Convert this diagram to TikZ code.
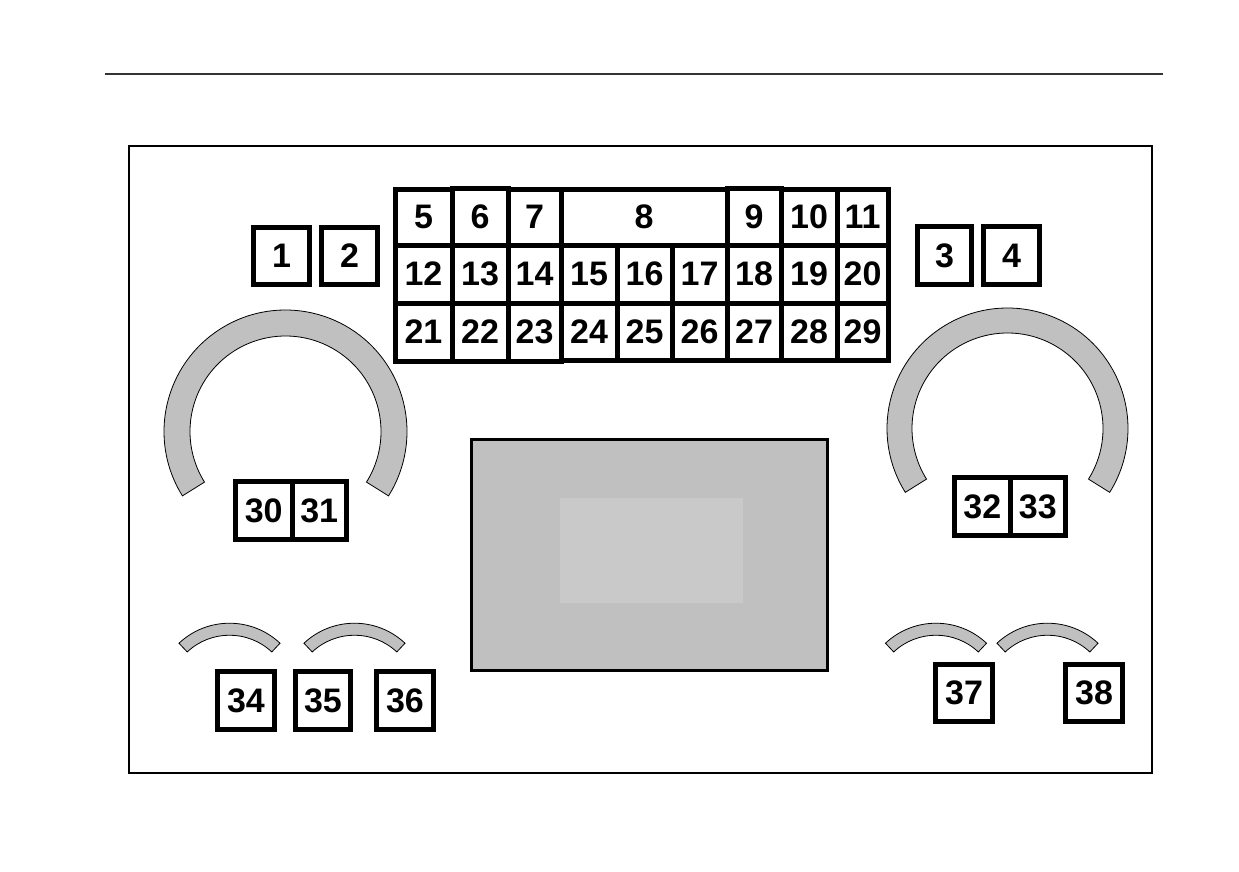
\documentclass[tikz,border=0pt]{standalone}
\usepackage{fontspec}
\setmainfont{Liberation Sans}
\definecolor{bandgray}{HTML}{C0C0C0}
\definecolor{scrgray}{HTML}{C0C0C0}
\definecolor{scrin}{HTML}{C9C9C9}
\definecolor{rulegray}{HTML}{333333}
\tikzset{
  box/.style={draw=black, line width=5pt, fill=white, inner sep=0pt, outer sep=0pt,
    font=\fontsize{34}{34}\selectfont\bfseries},
  band/.style={draw=black, line width=0.8pt, fill=bandgray},
  frameline/.style={draw=black, line width=2pt},
}
\newcommand\bx[6]{\node[box, minimum width={#4-#2}, minimum height={#5-#3}] (#1) at ({(#2+#4)/2},{(#3+#5)/2}) {#6};}
\begin{document}
\begin{tikzpicture}[x=1pt,y=-1pt]
\useasboundingbox (0,0) rectangle (1239,872);
% top rule and frame
\draw[draw=rulegray, line width=2pt] (105,74.5) -- (1163,74.5);
\draw[frameline] (128.7,146) rectangle (1152,773);
% screen
\draw[draw=black, line width=3pt, fill=scrgray] (471.5,439.5) rectangle (827.5,670.5);
\fill[scrin] (560,498) rectangle (743,603);
% big arcs
\coordinate (lc) at (285.5,431.5);
\coordinate (rc) at (1007.5,428.5);
\path[band] ([shift={(148:121.5)}]lc) arc[start angle=148, end angle=392, radius=121.5]
  -- ([shift={(392:95.5)}]lc) arc[start angle=392, end angle=148, radius=95.5] -- cycle;
\path[band] ([shift={(148:120.5)}]rc) arc[start angle=148, end angle=392, radius=120.5]
  -- ([shift={(392:95.5)}]rc) arc[start angle=392, end angle=148, radius=95.5] -- cycle;
% small arcs
\foreach \n/\cx in {a/229.5, b/354.5, c/936, d/1047.5}{
  \coordinate (s\n) at (\cx,697);
  \path[band] ([shift={(226.8:73.8)}]s\n) arc[start angle=226.8, end angle=313.2, radius=73.8]
    -- ([shift={(313.2:61.8)}]s\n) arc[start angle=313.2, end angle=226.8, radius=61.8] -- cycle;
}
% single boxes
\bx{b1}{253.5}{227.5}{309.5}{284.5}{1}
\bx{b2}{321.5}{227.5}{377.5}{284.5}{2}
\bx{b3}{917.5}{226.5}{971.5}{284.5}{3}
\bx{b4}{983.5}{226.5}{1039.5}{284.5}{4}
% grid row 1
\bx{b5}{395}{189}{452}{245}{5}
\bx{b7}{508}{189}{561}{245}{7}
\bx{b8}{561}{189}{727}{245}{8}
\bx{b10}{781}{189}{837}{245}{10}
\bx{b11}{837}{189}{888}{245}{11}
\bx{b6}{452}{188}{508}{245}{6}
\bx{b9}{727}{188}{781}{245}{9}
% grid row 2
\bx{b12}{395}{245}{452}{303}{12}
\bx{b13}{452}{245}{508}{303}{13}
\bx{b14}{508}{245}{561}{303}{14}
\bx{b15}{561}{245}{617}{303}{15}
\bx{b16}{617}{245}{672}{303}{16}
\bx{b17}{672}{245}{727}{303}{17}
\bx{b18}{727}{245}{781}{303}{18}
\bx{b19}{781}{245}{837}{303}{19}
\bx{b20}{837}{245}{888}{303}{20}
% grid row 3
\bx{b24}{561}{303}{617}{360}{24}
\bx{b25}{617}{303}{672}{360}{25}
\bx{b26}{672}{303}{727}{360}{26}
\bx{b27}{727}{303}{781}{360}{27}
\bx{b28}{781}{303}{837}{360}{28}
\bx{b29}{837}{303}{888}{360}{29}
\bx{b21}{395}{303}{452}{361}{21}
\bx{b22}{452}{303}{508}{361}{22}
\bx{b23}{508}{303}{561}{361}{23}
% gauge boxes
\bx{b30}{235.5}{481.5}{292}{539.5}{30}
\bx{b31}{292}{481.5}{346.5}{539.5}{31}
\bx{b32}{954.5}{477.5}{1010}{535.5}{32}
\bx{b33}{1010}{477.5}{1065.5}{535.5}{33}
% bottom boxes
\bx{b34}{217.5}{671.5}{274.5}{729.5}{34}
\bx{b35}{295.5}{671.5}{350.5}{729.5}{35}
\bx{b36}{376.5}{671.5}{433.5}{729.5}{36}
\bx{b37}{935.5}{664.5}{992.5}{721.5}{37}
\bx{b38}{1065.5}{664.5}{1122.5}{721.5}{38}
\end{tikzpicture}
\end{document}
